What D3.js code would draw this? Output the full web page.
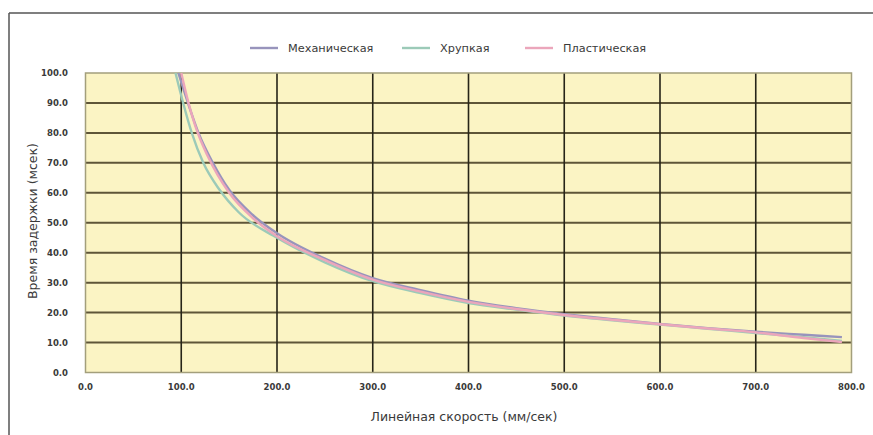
<!DOCTYPE html>
<html>
<head>
<meta charset="utf-8">
<script src="https://cdn.jsdelivr.net/npm/d3@7"></script>
<style>
  html, body { margin: 0; padding: 0; background: #fff; }
  svg text { font-family: "DejaVu Sans", "Liberation Sans", sans-serif; fill: #3a3a3a; }
</style>
</head>
<body>
<svg id="chart" width="873" height="435"></svg>
<script>
// Delay time vs. line speed for three break types
const xTicks = [0, 100, 200, 300, 400, 500, 600, 700, 800];
const yTicks = [0, 10, 20, 30, 40, 50, 60, 70, 80, 90, 100];

const seriesNames = ["Механическая", "Хрупкая", "Пластическая"];
const seriesColors = ["#9894bc", "#9ccab8", "#eba6bb"];

// speed (мм/сек) -> delay (мсек)
const mechSpeed = [97, 107, 118, 133, 150, 175, 200, 250, 300, 350, 400, 450, 500, 550, 600, 650, 700, 750, 790];
const mechDelay = [100, 90, 80, 70, 61, 52.5, 46.5, 38, 31.5, 27.5, 24, 21.5, 19.5, 17.8, 16.2, 14.8, 13.6, 12.6, 11.8];

const brittleSpeed = [94, 102, 111, 123, 140, 160, 200, 250, 300, 350, 400, 450, 500, 550, 600, 650, 700, 750, 790];
const brittleDelay = [100, 90, 80, 70, 61, 53.5, 45, 36.8, 30.5, 26.5, 23.2, 21, 19, 17.4, 16, 14.6, 13.2, 11.8, 10.5];

const plasticSpeed = [100, 106, 115, 128, 150, 175, 200, 250, 300, 350, 400, 450, 500, 550, 600, 650, 700, 750, 790];
const plasticDelay = [100, 92, 82, 72, 60, 51.5, 45.5, 37.5, 31, 27, 23.6, 21.2, 19.2, 17.6, 16.1, 14.7, 13.4, 11.5, 10.2];

const seriesSpeed = [mechSpeed, brittleSpeed, plasticSpeed];
const seriesDelay = [mechDelay, brittleDelay, plasticDelay];

const svg = d3.select("#chart");
const W = 873, H = 435;

// outer frame
svg.append("line").attr("x1", 9).attr("y1", 13).attr("x2", W).attr("y2", 13)
  .attr("stroke", "#555").attr("stroke-width", 1.5);
svg.append("line").attr("x1", 9).attr("y1", 13).attr("x2", 9).attr("y2", H)
  .attr("stroke", "#555").attr("stroke-width", 1.5);

const plotL = 85.5, plotR = 851.5, plotT = 73, plotB = 372.5;
const x = d3.scaleLinear().domain([0, 800]).range([plotL, plotR]);
const y = d3.scaleLinear().domain([0, 100]).range([plotB, plotT]);

const g = svg.append("g");

// plot background
g.append("rect").attr("x", plotL).attr("y", plotT)
  .attr("width", plotR - plotL).attr("height", plotB - plotT)
  .attr("fill", "#fbf4c4");

// horizontal grid
g.append("g").selectAll("line").data(yTicks.filter(d => d > 0 && d < 100)).join("line")
  .attr("x1", plotL).attr("x2", plotR)
  .attr("y1", d => y(d)).attr("y2", d => y(d))
  .attr("stroke", "#5e5538").attr("stroke-width", 2);

// vertical grid
g.append("g").selectAll("line").data(xTicks.filter(d => d > 0 && d < 800)).join("line")
  .attr("x1", d => x(d)).attr("x2", d => x(d))
  .attr("y1", plotT).attr("y2", plotB)
  .attr("stroke", "#262418").attr("stroke-width", 1.6);

// plot border
g.append("rect").attr("x", plotL).attr("y", plotT)
  .attr("width", plotR - plotL).attr("height", plotB - plotT)
  .attr("fill", "none").attr("stroke", "#a39f7c").attr("stroke-width", 1.5);

// curves
const line = d3.line().curve(d3.curveMonotoneX)
  .x(d => x(d[0])).y(d => y(d[1]));
seriesNames.forEach((name, i) => {
  const pts = seriesSpeed[i].map((s, j) => [s, seriesDelay[i][j]]);
  g.append("path").datum(pts)
    .attr("d", line)
    .attr("fill", "none")
    .attr("stroke", seriesColors[i])
    .attr("stroke-width", 2.4);
});

// axes labels
const fmt = d3.format(".1f");
svg.append("g").selectAll("text").data(yTicks).join("text")
  .attr("x", 68).attr("y", d => y(d) + 3)
  .attr("text-anchor", "end").attr("font-size", 8.5).attr("font-weight", "bold")
  .text(fmt);
svg.append("g").selectAll("text").data(xTicks).join("text")
  .attr("x", d => x(d)).attr("y", 390)
  .attr("text-anchor", "middle").attr("font-size", 8.5).attr("font-weight", "bold")
  .text(fmt);

svg.append("text").attr("x", 464).attr("y", 421)
  .attr("text-anchor", "middle").attr("font-size", 12.5)
  .text("Линейная скорость (мм/сек)");
svg.append("text")
  .attr("transform", "translate(37,221) rotate(-90)")
  .attr("text-anchor", "middle").attr("font-size", 12.5)
  .text("Время задержки (мсек)");

// legend
const legendX = [250, 402, 525];
const leg = svg.append("g");
seriesNames.forEach((name, i) => {
  leg.append("line")
    .attr("x1", legendX[i]).attr("x2", legendX[i] + 28)
    .attr("y1", 48).attr("y2", 48)
    .attr("stroke", seriesColors[i]).attr("stroke-width", 2.4);
  leg.append("text")
    .attr("x", legendX[i] + 38).attr("y", 52)
    .attr("font-size", 11.3)
    .text(name);
});
</script>
</body>
</html>
